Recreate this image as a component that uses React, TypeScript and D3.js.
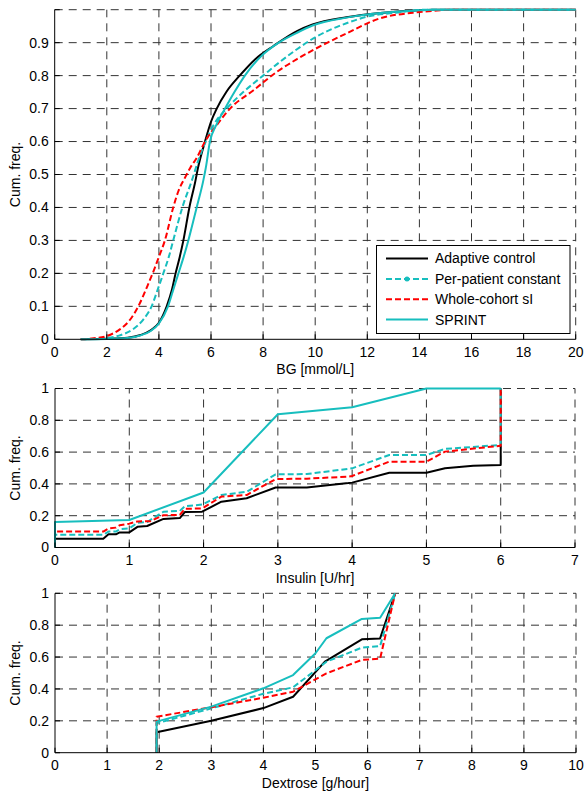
import React from 'react';
import * as d3 from 'd3';

type Pt = [number, number];

// ---------- Data: BG cumulative frequency ----------
const bgAdaptive: Pt[] = [
  [1.0, 0], [2.0, 0.002], [2.8, 0.005], [3.3, 0.013], [3.7, 0.028], [4.0, 0.05], [4.3, 0.1], [4.5, 0.15],
  [4.64, 0.2], [4.8, 0.25], [4.94, 0.3], [5.17, 0.4], [5.4, 0.48], [5.5, 0.52], [5.77, 0.6], [6.0, 0.66],
  [6.22, 0.7], [6.6, 0.752], [7.1, 0.8], [7.7, 0.85], [8.4, 0.89], [9.3, 0.935], [9.9, 0.955],
  [11.2, 0.977], [12.5, 0.99], [13.75, 0.997], [14.5, 1], [20, 1],
];
const bgPerPatient: Pt[] = [
  [1.0, 0], [1.8, 0.003], [2.5, 0.012], [3.0, 0.03], [3.4, 0.06], [3.72, 0.1], [3.95, 0.15], [4.17, 0.2],
  [4.38, 0.25], [4.55, 0.3], [4.9, 0.4], [5.3, 0.49], [5.5, 0.54], [5.8, 0.6], [6.1, 0.65], [6.6, 0.7],
  [7.24, 0.75], [8.0, 0.8], [8.65, 0.842], [9.3, 0.88], [9.93, 0.913], [11.2, 0.959], [12.0, 0.979],
  [13.1, 0.991], [14.2, 1], [20, 1],
];
const bgWholeCohort: Pt[] = [
  [1.0, 0], [1.5, 0.003], [2.0, 0.01], [2.5, 0.03], [2.9, 0.06], [3.21, 0.1], [3.55, 0.16], [3.81, 0.21],
  [4.0, 0.25], [4.23, 0.3], [4.55, 0.4], [4.75, 0.45], [5.0, 0.49], [5.2, 0.52], [5.45, 0.55], [5.77, 0.6],
  [6.22, 0.65], [6.73, 0.7], [7.62, 0.755], [8.52, 0.811], [9.3, 0.85], [9.93, 0.878], [11.2, 0.928],
  [12.5, 0.974], [13.75, 0.991], [14.8, 0.998], [15.2, 1], [20, 1],
];
const bgSprint: Pt[] = [
  [1.0, 0], [2.0, 0.001], [2.8, 0.004], [3.3, 0.012], [3.7, 0.026], [4.0, 0.048], [4.35, 0.1], [4.55, 0.15],
  [4.75, 0.2], [4.95, 0.25], [5.13, 0.3], [5.45, 0.4], [5.7, 0.48], [5.8, 0.52], [5.96, 0.6], [6.2, 0.65],
  [6.54, 0.7], [6.9, 0.75], [7.3, 0.8], [7.9, 0.857], [8.6, 0.9], [9.3, 0.93], [9.9, 0.952], [11.2, 0.976],
  [12.5, 0.99], [13.75, 0.997], [14.5, 1], [20, 1],
];

// ---------- Data: Insulin cumulative frequency ----------
const insAdaptive: Pt[] = [
  [0, 0], [0, 0.055], [0.65, 0.055], [0.72, 0.083], [0.82, 0.083], [0.87, 0.095], [1.0, 0.095], [1.11, 0.13],
  [1.24, 0.135], [1.46, 0.18], [1.68, 0.185], [1.75, 0.224], [1.98, 0.225], [2.24, 0.288], [2.58, 0.31],
  [2.97, 0.377], [3.39, 0.378], [3.95, 0.405], [4.0, 0.408], [4.5, 0.47], [5.0, 0.47], [5.25, 0.498],
  [5.63, 0.514], [6.0, 0.519], [6.0, 1],
];
const insPerPatient: Pt[] = [
  [0, 0], [0, 0.08], [0.65, 0.08], [0.72, 0.1], [0.82, 0.1], [0.87, 0.115], [1.0, 0.12], [1.11, 0.155],
  [1.24, 0.16], [1.46, 0.225], [1.68, 0.23], [1.75, 0.26], [1.98, 0.27], [2.24, 0.33], [2.58, 0.35],
  [2.97, 0.46], [3.39, 0.462], [3.95, 0.495], [4.0, 0.498], [4.5, 0.582], [5.0, 0.582], [5.25, 0.62],
  [6.0, 0.645], [6.0, 1],
];
const insWholeCohort: Pt[] = [
  [0, 0], [0, 0.1], [0.65, 0.1], [0.72, 0.12], [0.82, 0.125], [0.87, 0.14], [1.0, 0.15], [1.11, 0.164],
  [1.28, 0.165], [1.46, 0.203], [1.68, 0.205], [1.75, 0.244], [1.98, 0.245], [2.24, 0.32], [2.58, 0.33],
  [2.97, 0.43], [3.39, 0.433], [3.95, 0.446], [4.0, 0.45], [4.5, 0.54], [5.0, 0.54], [5.25, 0.603],
  [6.0, 0.64], [6.0, 1],
];
const insSprint: Pt[] = [
  [0, 0], [0, 0.16], [1.0, 0.173], [2.0, 0.346], [3.0, 0.838], [4.0, 0.882], [5.0, 1.0], [6.0, 1.0],
];

// ---------- Data: Dextrose cumulative frequency ----------
const dexAdaptive: Pt[] = [
  [1.95, 0], [1.95, 0.128], [3, 0.2], [4, 0.28], [4.57, 0.351], [5.18, 0.571], [5.89, 0.711], [6.24, 0.717], [6.53, 1],
];
const dexPerPatient: Pt[] = [
  [1.95, 0], [1.95, 0.184], [3, 0.278], [4, 0.37], [4.57, 0.41], [5.21, 0.571], [5.89, 0.659], [6.24, 0.669], [6.53, 1],
];
const dexWholeCohort: Pt[] = [
  [1.95, 0], [1.95, 0.226], [3, 0.285], [4, 0.345], [4.57, 0.383], [5.21, 0.498], [5.89, 0.582], [6.24, 0.59], [6.53, 1],
];
const dexSprint: Pt[] = [
  [1.95, 0], [1.95, 0.195], [3, 0.289], [4, 0.404], [4.57, 0.487], [5.0, 0.624], [5.21, 0.718], [5.89, 0.839], [6.24, 0.847], [6.53, 1],
];

// ---------- Labels & ticks ----------
const seriesNames = ['Adaptive control', 'Per-patient constant', 'Whole-cohort sI', 'SPRINT'];
const bgXTicks = [0, 2, 4, 6, 8, 10, 12, 14, 16, 18, 20];
const bgYTicks = [0, 0.1, 0.2, 0.3, 0.4, 0.5, 0.6, 0.7, 0.8, 0.9, 1];
const bgYTickLabels = ['0', '0.1', '0.2', '0.3', '0.4', '0.5', '0.6', '0.7', '0.8', '0.9', ''];
const insXTicks = [0, 1, 2, 3, 4, 5, 6, 7];
const dexXTicks = [0, 1, 2, 3, 4, 5, 6, 7, 8, 9, 10];
const fracTicks = [0, 0.2, 0.4, 0.6, 0.8, 1];
const fracTickLabels = ['0', '0.2', '0.4', '0.6', '0.8', '1'];
const yLabel = 'Cum. freq.';
const bgXLabel = 'BG [mmol/L]';
const insXLabel = 'Insulin [U/hr]';
const dexXLabel = 'Dextrose [g/hour]';

// ---------- Styles ----------
const CYAN = '#17BEBE';
const seriesStyles = [
  { color: '#000000', dash: undefined as string | undefined },
  { color: CYAN, dash: '6,3' },
  { color: '#FF0000', dash: '6,3' },
  { color: CYAN, dash: undefined as string | undefined },
];
const FONT = '"Liberation Sans", Arial, Helvetica, sans-serif';
const FS = 14;

interface PanelProps {
  left: number; right: number; top: number; bottom: number;
  xMax: number; smooth?: boolean;
  xTicks: number[]; yTicks: number[]; yTickLabels: string[];
  xLabel: string; series: Pt[][];
}

function Panel({ left, right, top, bottom, xMax, smooth, xTicks, yTicks, yTickLabels, xLabel, series }: PanelProps) {
  const x = d3.scaleLinear().domain([0, xMax]).range([left, right]);
  const y = d3.scaleLinear().domain([0, 1]).range([bottom, top]);
  const line = d3.line<Pt>().x(d => x(d[0])).y(d => y(d[1]));
  if (smooth) line.curve(d3.curveMonotoneX);
  const gridStyle = { stroke: '#333', strokeWidth: 1, strokeDasharray: '8,6', fill: 'none' };
  return (
    <g>
      {xTicks.filter(t => t > 0).map(t => (
        <line key={'gx' + t} x1={x(t)} x2={x(t)} y1={bottom} y2={top} style={gridStyle} />
      ))}
      {yTicks.filter(t => t > 0).map(t => (
        <line key={'gy' + t} x1={left} x2={right} y1={y(t)} y2={y(t)} style={gridStyle} />
      ))}
      {series.map((s, i) => (
        <path key={'s' + i} d={line(s) || ''} fill="none" stroke={seriesStyles[i].color}
          strokeWidth={2} strokeDasharray={seriesStyles[i].dash} strokeLinejoin="round" />
      ))}
      <line x1={left} x2={left} y1={bottom} y2={top} stroke="#000" strokeWidth={1} />
      <line x1={left} x2={right} y1={bottom} y2={bottom} stroke="#000" strokeWidth={1} />
      {xTicks.map(t => (
        <g key={'tx' + t}>
          <line x1={x(t)} x2={x(t)} y1={bottom} y2={bottom - 5} stroke="#000" />
          <text x={x(t)} y={bottom + 17.5} textAnchor="middle" fontFamily={FONT} fontSize={FS}>{String(t)}</text>
        </g>
      ))}
      {yTicks.map((t, i) => (
        <g key={'ty' + t}>
          <line x1={left} x2={left + 5} y1={y(t)} y2={y(t)} stroke="#000" />
          <text x={left - 6} y={y(t)} dy="0.35em" textAnchor="end" fontFamily={FONT} fontSize={FS}>{yTickLabels[i]}</text>
        </g>
      ))}
      <text x={(left + right) / 2} y={bottom + 35} textAnchor="middle" fontFamily={FONT} fontSize={FS}>{xLabel}</text>
      <text transform={`translate(${20},${(top + bottom) / 2}) rotate(-90)`} textAnchor="middle"
        fontFamily={FONT} fontSize={FS}>{yLabel}</text>
    </g>
  );
}

export default function App() {
  const legendX = 376.5, legendY = 245.5, legendW = 193.5, legendH = 88;
  const legendRowY = [258.5, 279, 299.3, 319.6];
  return (
    <svg width={584} height={792} style={{ position: 'absolute', left: 0, top: 0, background: '#fff' }}>
      <rect x={0} y={0} width={584} height={792} fill="#fff" />
      <Panel left={54.7} right={575.7} top={9.7} bottom={339.3} xMax={20} smooth
        xTicks={bgXTicks} yTicks={bgYTicks} yTickLabels={bgYTickLabels} xLabel={bgXLabel}
        series={[bgAdaptive, bgPerPatient, bgWholeCohort, bgSprint]} />
      <Panel left={55} right={575} top={388.5} bottom={547.5} xMax={7}
        xTicks={insXTicks} yTicks={fracTicks} yTickLabels={fracTickLabels} xLabel={insXLabel}
        series={[insAdaptive, insPerPatient, insWholeCohort, insSprint]} />
      <Panel left={55} right={576} top={593.3} bottom={752.7} xMax={10}
        xTicks={dexXTicks} yTicks={fracTicks} yTickLabels={fracTickLabels} xLabel={dexXLabel}
        series={[dexAdaptive, dexPerPatient, dexWholeCohort, dexSprint]} />
      <g>
        <rect x={legendX} y={legendY} width={legendW} height={legendH} fill="#fff" stroke="#000" strokeWidth={1} />
        {seriesNames.map((name, i) => (
          <g key={name}>
            <line x1={386} x2={428} y1={legendRowY[i]} y2={legendRowY[i]} stroke={seriesStyles[i].color}
              strokeWidth={2} strokeDasharray={seriesStyles[i].dash} />
            {i === 1 && <circle cx={407} cy={legendRowY[i]} r={2.5} fill={CYAN} />}
            <text x={435} y={legendRowY[i]} dy="0.35em" fontFamily={FONT} fontSize={FS}>{name}</text>
          </g>
        ))}
      </g>
    </svg>
  );
}
